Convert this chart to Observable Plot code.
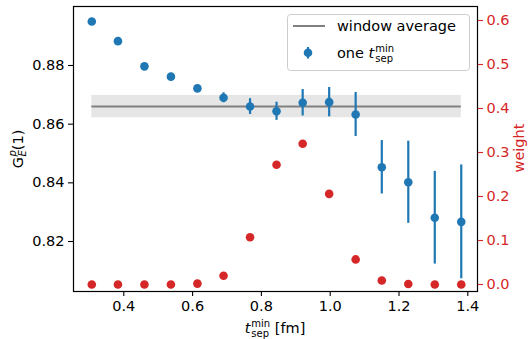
<!DOCTYPE html>
<html><head><meta charset="utf-8">
<script src="https://cdn.jsdelivr.net/npm/d3@7"></script>
<script src="https://cdn.jsdelivr.net/npm/@observablehq/plot@0.6"></script>
<style>
body{margin:0;background:#fff;}
#chart{position:relative;width:529px;height:339px;}
#chart svg{position:absolute;left:0;top:0;}
</style></head><body><div id="chart"></div>
<script>
// ---- data ----
const tsep    = [0.307,0.383,0.460,0.537,0.614,0.690,0.767,0.844,0.920,0.997,1.074,1.150,1.227,1.304,1.381];
const gep     = [0.8950,0.8883,0.8797,0.8762,0.8722,0.8690,0.8660,0.8644,0.8673,0.8675,0.8633,0.8453,0.8402,0.8281,0.8267];
const gepErr  = [0.0002,0.0002,0.0003,0.0004,0.0007,0.0017,0.0027,0.0031,0.0045,0.0050,0.0075,0.0091,0.0140,0.0158,0.0194];
const weight  = [0.000,0.000,0.000,0.000,0.002,0.020,0.1075,0.272,0.320,0.206,0.057,0.009,0.001,0.000,0.000];
const windowAvg = 0.8660;
const windowErr = 0.0038;
const windowRange = [0.307, 1.381];
const xTicks = [0.4,0.6,0.8,1.0,1.2,1.4];
const gTicks = [0.82,0.84,0.86,0.88];
const wTicks = [0.0,0.1,0.2,0.3,0.4,0.5,0.6];

// ---- layout ----
const W = 529, H = 339;
const M = {top:6, right:52, bottom:48, left:73};
const xDomain = [0.2538, 1.4282];
const gDomain = [0.80296, 0.90011];
const wDomain = [-0.0159, 0.6318];
const blue = "#1f77b4", red = "#d62728", grey = "#808080";
const font = "DejaVu Sans", fs = 14.5, fsSmall = 10;

const pts = tsep.map((t,i)=>({t, g:gep[i], e:gepErr[i], w:weight[i]}));
const common = {
  width:W, height:H, marginTop:M.top, marginRight:M.right, marginBottom:M.bottom, marginLeft:M.left,
  style:{fontFamily:font, fontSize:fs+"px", background:"transparent", overflow:"visible"}
};

const leftPlot = Plot.plot({
  ...common,
  x:{domain:xDomain},
  y:{domain:gDomain},
  marks:[
    Plot.rect([{x1:windowRange[0], x2:windowRange[1], y1:windowAvg-windowErr, y2:windowAvg+windowErr}],
      {x1:"x1", x2:"x2", y1:"y1", y2:"y2", fill:grey, fillOpacity:0.2}),
    Plot.ruleY([{y:windowAvg, x1:windowRange[0], x2:windowRange[1]}],
      {y:"y", x1:"x1", x2:"x2", stroke:grey, strokeWidth:2}),
    Plot.ruleX(pts, {x:"t", y1:d=>d.g-d.e, y2:d=>d.g+d.e, stroke:blue, strokeWidth:2.2}),
    Plot.dot(pts, {x:"t", y:"g", r:4.3, fill:blue}),
    Plot.axisX({ticks:xTicks, tickFormat:d3.format(".1f"), tickSize:5, tickPadding:4, label:null, strokeWidth:1.1}),
    Plot.axisY({anchor:"left", ticks:gTicks, tickFormat:d3.format(".2f"), tickSize:5, tickPadding:4, label:null, strokeWidth:1.1}),
    Plot.frame({stroke:"black", strokeWidth:1.2})
  ]
});

const rightPlot = Plot.plot({
  ...common,
  x:{domain:xDomain, axis:null},
  y:{domain:wDomain},
  marks:[
    Plot.dot(pts, {x:"t", y:"w", r:4.3, fill:red}),
    Plot.axisY({anchor:"right", ticks:wTicks, tickFormat:d3.format(".1f"), tickSize:5, tickPadding:4, label:null, color:red, strokeWidth:1.1})
  ]
});

const chart = document.getElementById("chart");
chart.appendChild(leftPlot);
chart.appendChild(rightPlot);

const svg = d3.select(rightPlot);

// math-like text helper
function mathText(parent, items, x, y, anchor, fill, rotate) {
  const g = parent.append("g")
    .attr("transform", `translate(${x},${y})` + (rotate ? ` rotate(${rotate})` : ""))
    .attr("fill", fill).attr("text-anchor", "start").style("font-family", font);
  let cx = 0;
  for (const it of items) {
    if (it.gap) { cx += it.gap; continue; }
    if (it.sup !== undefined || it.sub !== undefined) {
      let w = 0;
      if (it.sup) {
        const t = g.append("text").attr("x", cx).attr("y", -6.3).style("font-size", fsSmall+"px")
          .style("font-style", it.supItalic ? "italic" : "normal").text(it.sup);
        w = Math.max(w, t.node().getComputedTextLength());
      }
      if (it.sub) {
        const t = g.append("text").attr("x", cx).attr("y", 3.6).style("font-size", fsSmall+"px")
          .style("font-style", it.subItalic ? "italic" : "normal").text(it.sub);
        w = Math.max(w, t.node().getComputedTextLength());
      }
      cx += w;
    } else {
      const t = g.append("text").attr("x", cx).attr("y", 0).style("font-size", fs+"px")
        .style("font-style", it.italic ? "italic" : "normal").text(it.text);
      cx += t.node().getComputedTextLength();
    }
  }
  const shift = anchor === "middle" ? -cx/2 : anchor === "end" ? -cx : 0;
  g.selectAll("text").attr("x", function(){ return +this.getAttribute("x") + shift; });
  return g;
}

// axis labels
mathText(svg, [{text:"t", italic:true}, {gap:1}, {sup:"min", sub:"sep"}, {gap:4.6}, {text:"[fm]"}],
  275, 333, "middle", "black");
mathText(svg, [{text:"G"}, {gap:0.5}, {sup:"p", sub:"E", supItalic:true, subItalic:true}, {text:"(1)"}],
  22.5, 149, "middle", "black", -90);
svg.append("text").attr("transform", "translate(524,148) rotate(-90)")
  .attr("text-anchor", "middle").attr("fill", red)
  .style("font-family", font).style("font-size", fs+"px").text("weight");

// legend
const lg = svg.append("g").attr("text-anchor", "start");
lg.append("rect").attr("x", 287.5).attr("y", 14.5).attr("width", 182).attr("height", 56).attr("rx", 3)
  .attr("fill", "white").attr("fill-opacity", 0.8).attr("stroke", "#cccccc").attr("stroke-width", 1);
lg.append("line").attr("x1", 293).attr("x2", 325).attr("y1", 26).attr("y2", 26)
  .attr("stroke", grey).attr("stroke-width", 2);
lg.append("text").attr("x", 337).attr("y", 30.8).style("font-family", font).style("font-size", fs+"px")
  .attr("fill", "black").text("window average");
lg.append("line").attr("x1", 308).attr("x2", 308).attr("y1", 47).attr("y2", 58.5)
  .attr("stroke", blue).attr("stroke-width", 2.2);
lg.append("circle").attr("cx", 308).attr("cy", 52.7).attr("r", 4.3).attr("fill", blue);
mathText(lg, [{text:"one"}, {gap:4.6}, {text:"t", italic:true}, {gap:1}, {sup:"min", sub:"sep"}],
  337, 58, "start", "black");
</script>
</body></html>
